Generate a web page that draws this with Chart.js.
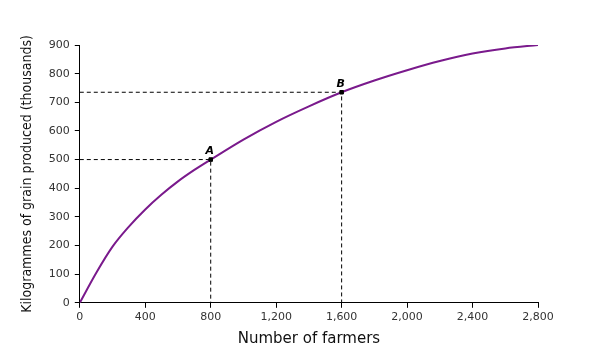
<!DOCTYPE html>
<html>
<head>
<meta charset="utf-8">
<script src="https://cdn.jsdelivr.net/npm/chart.js@4.4.1/dist/chart.umd.min.js"></script>
<style>
    html, body { margin: 0; padding: 0; background: #fff; }
    #wrap { width: 610px; height: 363px; }
</style>
</head>
<body>
<div id="wrap"><canvas id="grainChart"></canvas></div>
<script>
// Production curve: farmers -> kg of grain (thousands)
const farmers = [0, 100, 200, 300, 400, 500, 600, 700, 800, 1000, 1200, 1400, 1600, 1800, 2000, 2200, 2400, 2600, 2800];
const grain = [0, 104, 196, 266, 326, 378, 424, 464, 500, 570, 632, 686, 735, 776, 812, 844, 870, 888, 900];

// Marked points
const pointLabels = ['A', 'B'];
const pointFarmers = [800, 1600];
const pointGrain = [500, 735];

const xTicks = [0, 400, 800, 1200, 1600, 2000, 2400, 2800];
const yTicks = [0, 100, 200, 300, 400, 500, 600, 700, 800, 900];

document.addEventListener('DOMContentLoaded', function() {
    Chart.defaults.font.family = "'DejaVu Sans', Verdana, sans-serif";
    Chart.defaults.color = '#333';

    const curve = farmers.map((f, i) => ({ x: f, y: grain[i] }));

    // Dashed guide lines from each marked point to both axes
    const guides = pointFarmers.map((f, i) => ({
        type: 'line',
        data: [{ x: 0, y: pointGrain[i] }, { x: f, y: pointGrain[i] }, { x: f, y: 0 }],
        borderColor: '#000',
        borderWidth: 1,
        borderDash: [4, 3],
        pointRadius: 0,
        tension: 0,
        order: 2
    }));

    const markers = {
        type: 'scatter',
        data: pointFarmers.map((f, i) => ({ x: f, y: pointGrain[i] })),
        backgroundColor: '#000',
        borderColor: '#000',
        pointStyle: 'rect',
        pointRadius: 2.5,
        order: 0
    };

    // Letters above the marked points
    const letterPlugin = {
        id: 'letters',
        afterDatasetsDraw(chart) {
            const ctx = chart.ctx;
            const xs = chart.scales.x, ys = chart.scales.y;
            ctx.save();
            ctx.font = "italic bold 11px 'DejaVu Sans', sans-serif";
            ctx.fillStyle = '#000';
            ctx.textAlign = 'center';
            ctx.textBaseline = 'bottom';
            pointLabels.forEach((lab, i) => {
                ctx.fillText(lab, xs.getPixelForValue(pointFarmers[i]) - 1, ys.getPixelForValue(pointGrain[i]) - 3);
            });
            ctx.restore();
        }
    };

    new Chart(document.getElementById('grainChart'), {
        type: 'line',
        data: {
            datasets: [
                {
                    data: curve,
                    borderColor: '#7a1a8c',
                    borderWidth: 2,
                    pointRadius: 0,
                    cubicInterpolationMode: 'monotone',
                    order: 1
                },
                ...guides,
                markers
            ]
        },
        options: {
            responsive: true,
            maintainAspectRatio: false,
            animation: false,
            layout: { padding: { top: 45, right: 72, bottom: 15, left: 19 } },
            plugins: {
                legend: { display: false },
                tooltip: { enabled: false }
            },
            scales: {
                x: {
                    type: 'linear',
                    min: 0,
                    max: 2800,
                    afterBuildTicks: scale => { scale.ticks = xTicks.map(v => ({ value: v })); },
                    grid: {
                        drawOnChartArea: false,
                        color: '#000',
                        tickLength: 5
                    },
                    border: { color: '#000', width: 1 },
                    ticks: {
                        font: { size: 11 },
                        color: '#333',
                        padding: 3,
                        maxRotation: 0,
                        callback: v => v.toLocaleString('en-US')
                    },
                    title: {
                        display: true,
                        text: 'Number of farmers',
                        font: { size: 15 },
                        color: '#111',
                        padding: { top: 3, bottom: 0 }
                    }
                },
                y: {
                    min: 0,
                    max: 900,
                    afterBuildTicks: scale => { scale.ticks = yTicks.map(v => ({ value: v })); },
                    grid: {
                        drawOnChartArea: false,
                        color: '#000',
                        tickLength: 5
                    },
                    border: { color: '#000', width: 1 },
                    ticks: {
                        font: { size: 11 },
                        color: '#333',
                        padding: 5
                    },
                    title: {
                        display: true,
                        text: 'Kilogrammes of grain produced (thousands)',
                        font: { size: 14, family: "'DejaVu Sans Condensed', 'DejaVu Sans', sans-serif" },
                        color: '#111',
                        padding: { top: 0, bottom: 8 }
                    }
                }
            }
        },
        plugins: [letterPlugin]
    });
});
</script>
</body>
</html>
